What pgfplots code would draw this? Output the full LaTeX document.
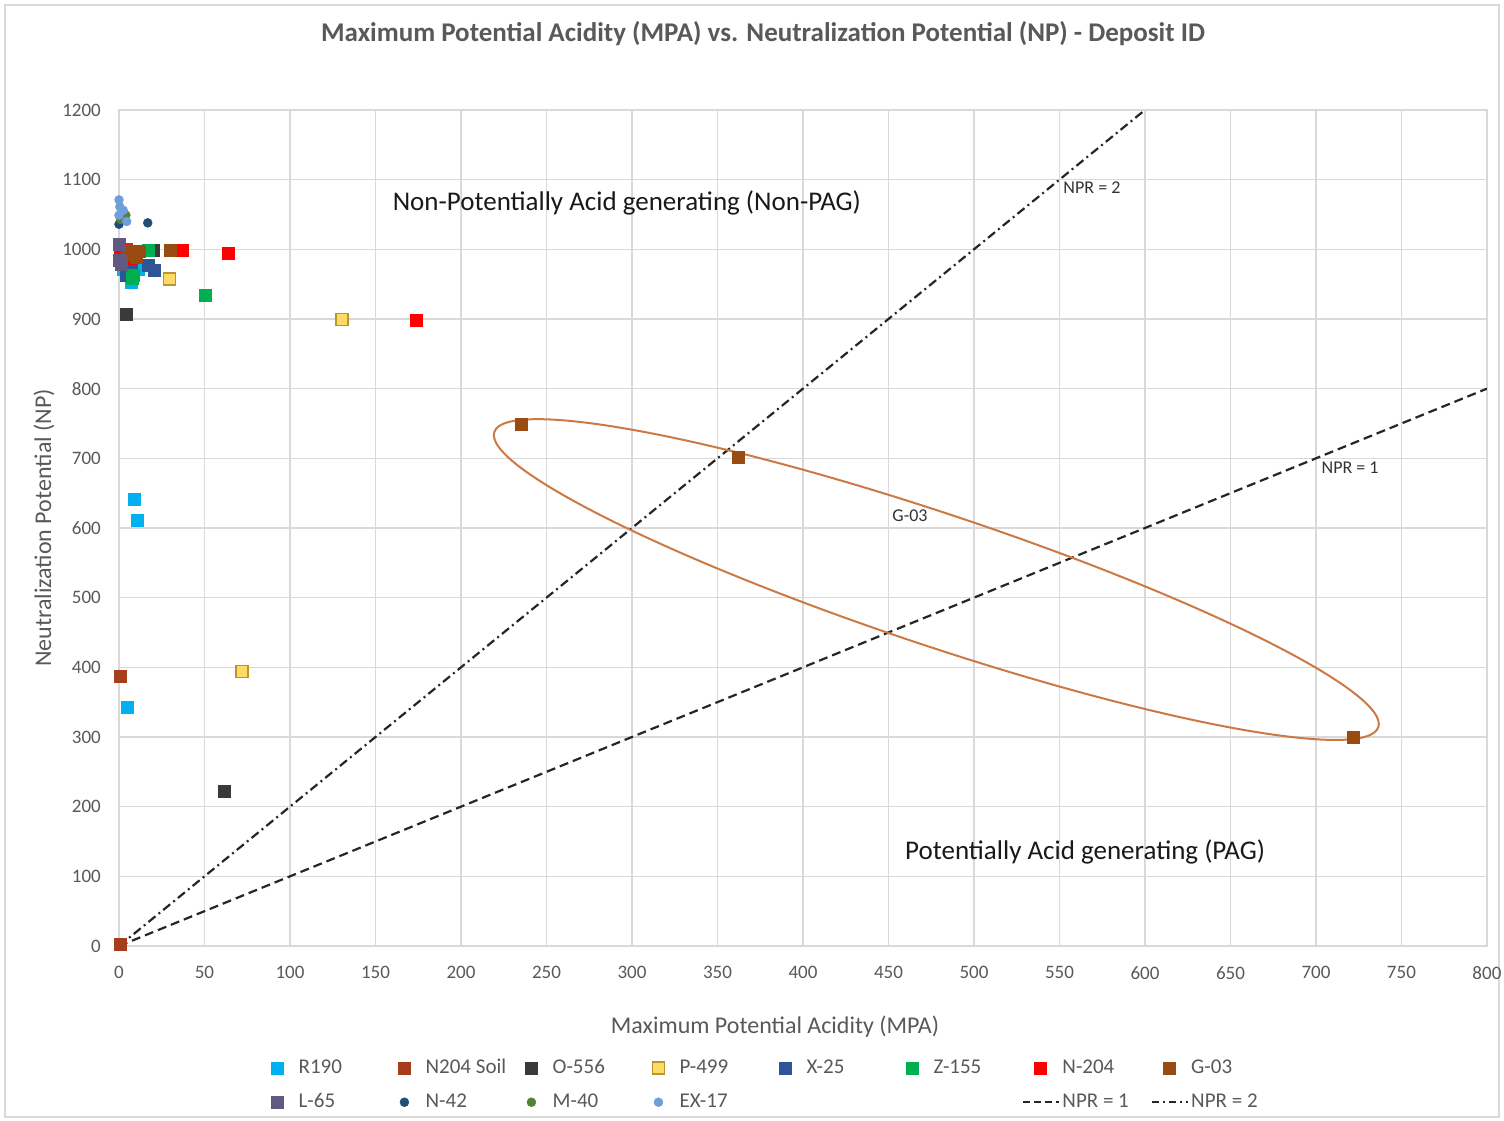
\documentclass[border=0pt]{standalone}
\usepackage{pgfplots}
\pgfplotsset{compat=1.18}
\usepackage{fontspec}
\setmainfont{Carlito}
\definecolor{txt}{HTML}{595959}
\definecolor{gridc}{HTML}{D9D9D9}
\definecolor{cR}{HTML}{00B0F0}
\definecolor{cNS}{HTML}{A63D1C}
\definecolor{cO}{HTML}{3A3A3A}
\definecolor{cPf}{HTML}{FFD966}
\definecolor{cPd}{HTML}{B8962E}
\definecolor{cX}{HTML}{2F5597}
\definecolor{cZ}{HTML}{00B050}
\definecolor{cN}{HTML}{FF0000}
\definecolor{cG}{HTML}{9A4B12}
\definecolor{cL}{HTML}{5F5A82}
\definecolor{cNf}{HTML}{1F4E79}
\definecolor{cM}{HTML}{548235}
\definecolor{cEX}{HTML}{6E9FDA}
\definecolor{ell}{HTML}{CC7A45}
\newcommand{\lt}[1]{\makebox[88.6pt][l]{#1}}
\begin{document}
\begin{tikzpicture}
\useasboundingbox (-119pt,-175pt) rectangle (1385pt,946pt);
\fill[white] (-119pt,-175pt) rectangle (1385pt,946pt);
\draw[gridc, line width=1.2pt] (-114pt,-171pt) rectangle (1380pt,941pt);
\begin{axis}[
  at={(0pt,0pt)}, anchor=south west,
  scale only axis, width=1368pt, height=836pt,
  xmin=0,xmax=800,ymin=0,ymax=1200,
  xtick={0,50,...,800}, ytick={0,100,...,1200},
  grid=major, grid style={gridc, line width=1.2pt},
  axis line style={gridc, line width=1.2pt},
  major tick length=0pt,
  tick label style={font=\fontsize{19}{22}\selectfont, text=txt, inner sep=0pt},
  /pgf/number format/assume math mode=true,
  /pgf/number format/1000 sep={},
  yticklabel style={xshift=-18pt},
  xticklabel style={yshift=-20pt},
  legend columns=8,
  legend cell align=left,
  legend style={at={(axis description cs:0.1031,-0.1352)}, anchor=north west, draw=none, fill=none, inner sep=0pt, column sep=0pt, row sep=16pt, font=\fontsize{21}{24}\selectfont, text=txt, nodes={inner sep=0pt, text height=14pt, text depth=4pt}},
  legend image code/.code={\path (-17pt,0pt) (21pt,0pt); \draw[mark repeat=2,mark phase=2] plot coordinates {(-1pt,0pt)(0pt,0pt)(1pt,0pt)};},
]
\addplot[only marks, mark=square*, mark size=6pt, draw=cR, fill=cR] coordinates {(9,641)(10.5,611)(5,343)(2.5,972)(11,972)(7.4,953)(7,968)};
\addlegendentry{\lt{R190}}
\addplot[only marks, mark=square*, mark size=6pt, draw=cNS, fill=cNS] coordinates {(0.5,387)(0.5,3)(4,1000)};
\addlegendentry{\lt{N204 Soil}}
\addplot[only marks, mark=square*, mark size=6pt, draw=cO, fill=cO] coordinates {(4.5,907)(61.6,222)(20,999)};
\addlegendentry{\lt{O-556}}
\addplot[only marks, mark=square*, mark size=6pt, draw=cPd, fill=cPf, mark options={line width=1.6pt}] coordinates {(29.5,957)(130.5,899)(72,394)};
\addlegendentry{\lt{P-499}}
\addplot[only marks, mark=square*, mark size=6pt, draw=cX, fill=cX] coordinates {(17,977)(20.5,970)(7.4,975)(4,963)};
\addlegendentry{\lt{X-25}}
\addplot[only marks, mark=square*, mark size=6pt, draw=cZ, fill=cZ] coordinates {(50.3,934)(17,999)(8.4,963)(8,958)};
\addlegendentry{\lt{Z-155}}
\addplot[only marks, mark=square*, mark size=6pt, draw=cN, fill=cN] coordinates {(37,999)(64,994)(174,898.5)(0.5,999)(6.4,987)};
\addlegendentry{\lt{N-204}}
\addplot[only marks, mark=square*, mark size=6pt, draw=cG, fill=cG] coordinates {(235,749)(362,702)(721.5,300)(30,999)(7,997)(12,997)(10,989)(5,993)};
\addlegendentry{\lt{G-03}}
\addplot[only marks, mark=square*, mark size=6pt, draw=cL, fill=cL] coordinates {(0,1008)(0,985)(1,978)};
\addlegendentry{\lt{L-65}}
\addplot[only marks, mark=*, mark size=4.5pt, draw=cNf, fill=cNf] coordinates {(16.8,1038)(0,1036)};
\addlegendentry{\lt{N-42}}
\addplot[only marks, mark=*, mark size=4.5pt, draw=cM, fill=cM] coordinates {(1,1043)(4,1049)(2,1051)};
\addlegendentry{\lt{M-40}}
\addplot[only marks, mark=*, mark size=4.5pt, draw=cEX, fill=cEX] coordinates {(0,1071)(0.5,1061)(2.5,1056)(4.5,1040)(0,1049)};
\addlegendentry{\lt{EX-17}}
\addlegendimage{empty legend}\addlegendentry{}
\addlegendimage{empty legend}\addlegendentry{}
\addplot[black!85, line width=2.2pt, dash pattern=on 9pt off 5pt,
  legend image code/.code={\path (-17pt,0pt) (21pt,0pt); \draw[black!85, line width=2pt, dash pattern=on 7pt off 4pt] (-17pt,0pt) -- (19pt,0pt);}] coordinates {(0,0)(800,800)};
\addlegendentry{\lt{NPR = 1}}
\addplot[black!85, line width=2.2pt, dash pattern=on 9pt off 4pt on 2pt off 4pt,
  legend image code/.code={\path (-17pt,0pt) (21pt,0pt); \draw[black!85, line width=2pt, dash pattern=on 7pt off 4pt on 2pt off 4pt] (-17pt,0pt) -- (19pt,0pt);}] coordinates {(0,0)(600,1200)};
\addlegendentry{\lt{NPR = 2}}
\draw[ell, line width=2pt, rotate around={-18.47:(axis cs:478,526)}] (axis cs:478,526) ellipse [x radius=466pt, y radius=66pt];
\node[font=\fontsize{27}{32}\selectfont, text=black!90] at (axis cs:297,1066) {Non-Potentially Acid generating (Non-PAG)};
\node[font=\fontsize{27}{32}\selectfont, text=black!90] at (axis cs:565,135) {Potentially Acid generating (PAG)};
\node[font=\fontsize{18}{21}\selectfont, text=black!80] at (axis cs:569,1089) {NPR = 2};
\node[font=\fontsize{18}{21}\selectfont, text=black!80] at (axis cs:720,686) {NPR = 1};
\node[font=\fontsize{18}{21}\selectfont, text=black!80] at (axis cs:462.6,617) {G-03};
\end{axis}
\node[font=\bfseries\fontsize{27}{32}\selectfont, text=txt] at (644pt,912pt) {Maximum Potential Acidity (MPA) vs. Neutralization Potential (NP) - Deposit ID};
\node[font=\fontsize{24}{28}\selectfont, text=txt] at (656pt,-81pt) {Maximum Potential Acidity (MPA)};
\node[font=\fontsize{24}{28}\selectfont, text=txt, rotate=90] at (-75pt,418pt) {Neutralization Potential (NP)};
\end{tikzpicture}
\end{document}
